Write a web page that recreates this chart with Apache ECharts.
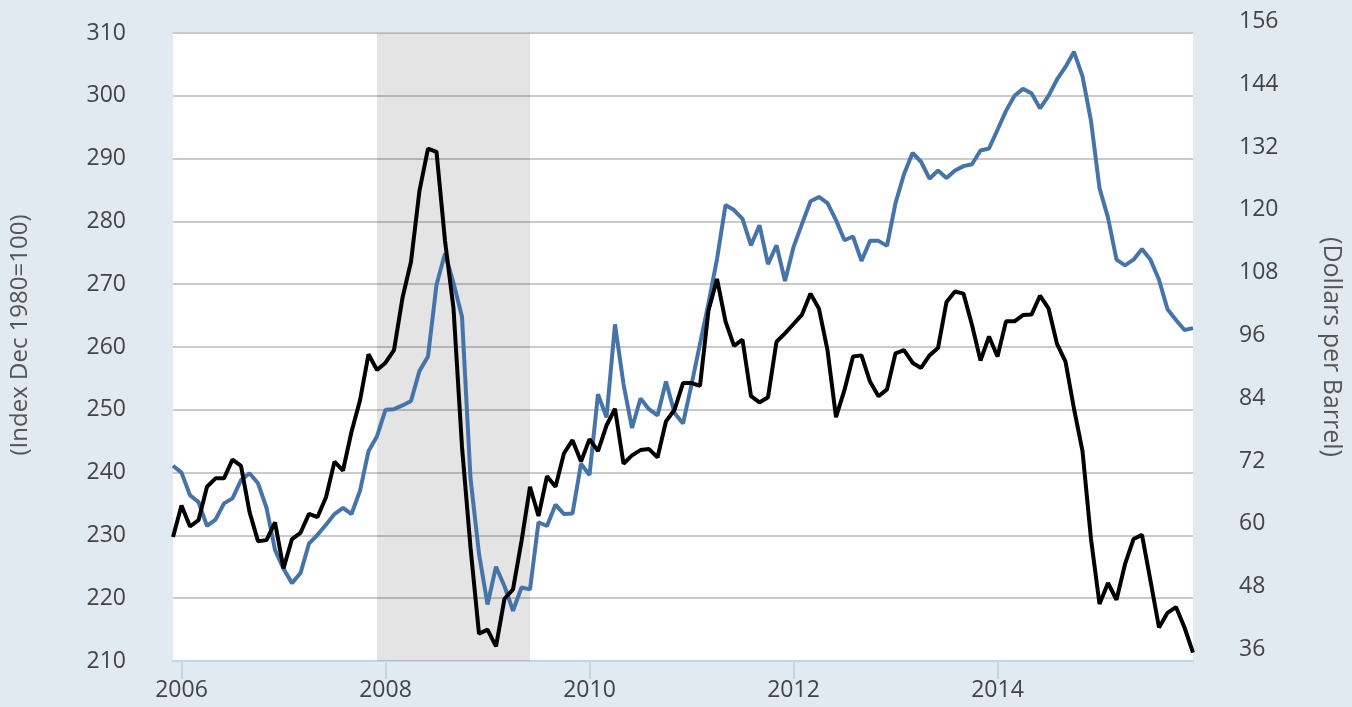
<!DOCTYPE html>
<html>
<head>
<meta charset="utf-8">
<script src="https://cdn.jsdelivr.net/npm/echarts@6/dist/echarts.min.js"></script>
<style>
  html, body { margin: 0; padding: 0; background: #e1e9f1; }
  #chart { width: 1352px; height: 707px; }
</style>
</head>
<body>
<div id="chart"></div>
<script>
// monthly, Dec 2005 .. Dec 2015
var startYear = 2005, startMonth = 12, monthCount = 121;
var tickYears = ['2006', '2008', '2010', '2012', '2014'];
var recession = ['2007-12', '2009-06'];

// left axis: index Dec 1980=100
var indexValues = [
    241.1, 240.0, 236.4, 235.3, 231.5, 232.5, 235.1, 235.9, 238.8, 239.9, 238.3, 234.4,
    227.7, 224.7, 222.4, 224.0, 228.7, 230.1, 231.7, 233.4, 234.4, 233.4, 237.1, 243.4,
    245.8, 250.0, 250.1, 250.7, 251.4, 256.2, 258.5, 269.9, 274.9, 270.2, 264.8, 239.1,
    227.1, 219.0, 225.0, 221.9, 218.0, 221.7, 221.4, 232.1, 231.5, 234.9, 233.4, 233.5,
    241.4, 239.6, 252.5, 248.8, 263.6, 254.1, 247.1, 251.8, 250.1, 249.1, 254.5, 249.5,
    247.8, 254.0, 260.5, 267.0, 274.0, 282.6, 281.8, 280.4, 276.2, 279.4, 273.2, 276.2,
    270.5, 275.9, 279.6, 283.2, 283.9, 282.9, 280.2, 277.0, 277.6, 273.7, 276.9, 276.9,
    276.1, 282.9, 287.5, 290.9, 289.5, 286.8, 288.1, 286.9, 288.1, 288.8, 289.1, 291.3,
    291.6, 294.6, 297.6, 300.0, 301.1, 300.4, 298.0, 300.0, 302.6, 304.6, 307.0, 303.1,
    296.0, 285.3, 280.6, 273.9, 273.0, 273.9, 275.6, 273.9, 270.7, 266.0, 264.3, 262.7,
    263.0
];

// right axis: dollars per barrel
var oilPrices = [
    59.7, 65.7, 61.7, 62.9, 69.3, 70.9, 70.9, 74.5, 73.3, 64.5, 58.9, 59.1,
    62.5, 53.7, 59.3, 60.5, 64.1, 63.5, 67.3, 74.1, 72.4, 79.8, 85.8, 94.6,
    91.6, 93.0, 95.4, 105.4, 112.3, 125.9, 133.9, 133.3, 116.3, 103.4, 76.9, 57.7,
    41.2, 42.0, 38.8, 47.9, 49.7, 58.9, 69.3, 63.7, 71.3, 69.3, 75.7, 78.2,
    74.1, 78.4, 76.1, 81.0, 84.2, 73.7, 75.3, 76.3, 76.5, 74.9, 81.8, 84.0,
    89.1, 89.1, 88.6, 103.0, 109.0, 100.9, 96.2, 97.4, 86.6, 85.4, 86.4, 97.0,
    98.6, 100.4, 102.2, 106.2, 103.3, 95.4, 82.6, 87.8, 94.2, 94.4, 89.4, 86.6,
    87.9, 94.8, 95.4, 93.0, 92.0, 94.4, 95.8, 104.6, 106.6, 106.2, 100.2, 93.4,
    98.0, 94.2, 100.9, 100.9, 102.1, 102.2, 105.8, 103.4, 96.6, 93.2, 84.2, 76.1,
    59.3, 46.9, 50.9, 47.7, 54.5, 59.3, 60.1, 51.3, 42.4, 45.2, 46.3, 42.4,
    37.6
];

var months = [];
for (var i = 0; i < monthCount; i++) {
    var m = (startMonth - 1 + i) % 12 + 1;
    var y = startYear + Math.floor((startMonth - 1 + i) / 12);
    months.push(y + '-' + (m < 10 ? '0' + m : m));
}

function isYearTick(index) {
    var c = months[index];
    return c.slice(5) === '01' && tickYears.indexOf(c.slice(0, 4)) >= 0;
}

var labelFont = { fontFamily: 'Open Sans', fontSize: 23, color: '#444' };

var myChart = echarts.init(document.getElementById('chart'));
myChart.setOption({
    backgroundColor: '#e1e9f1',
    animation: false,
    grid: {
        left: 173,
        right: 157,
        top: 33,
        bottom: 46,
        show: true,
        backgroundColor: '#ffffff',
        borderWidth: 0
    },
    xAxis: {
        type: 'category',
        data: months,
        boundaryGap: false,
        axisLine: { lineStyle: { color: '#c5d5e6', width: 2 } },
        axisTick: {
            interval: function (index) { return isYearTick(index); },
            length: 18,
            lineStyle: { color: '#c5d5e6', width: 2 }
        },
        axisLabel: {
            interval: function (index) { return isYearTick(index); },
            formatter: function (v) { return v.slice(0, 4); },
            margin: 18,
            fontFamily: 'Open Sans',
            fontSize: 23,
            color: '#444'
        },
        splitLine: { show: false }
    },
    yAxis: [{
        type: 'value',
        min: 210,
        max: 310,
        interval: 10,
        name: '(Index Dec 1980=100)',
        nameLocation: 'middle',
        nameRotate: 90,
        nameGap: 141,
        nameTextStyle: { fontFamily: 'Open Sans', fontSize: 24, color: '#555', padding: [0, 0, 0, 24] },
        axisLine: { show: false },
        axisTick: { show: false },
        axisLabel: Object.assign({ margin: 47 }, labelFont),
        splitLine: { lineStyle: { color: '#cacaca', width: 2 } }
    }, {
        type: 'value',
        min: 36,
        max: 156,
        interval: 12,
        name: '(Dollars per Barrel)',
        nameLocation: 'middle',
        nameRotate: -90,
        nameGap: 126,
        nameTextStyle: { fontFamily: 'Open Sans', fontSize: 25, color: '#555' },
        axisLine: { show: false },
        axisTick: { show: false },
        axisLabel: Object.assign({ margin: 46, align: 'left', verticalAlign: 'bottom' }, labelFont),
        splitLine: { show: false }
    }],
    series: [{
        name: 'Index',
        type: 'line',
        yAxisIndex: 0,
        data: indexValues,
        symbol: 'none',
        lineStyle: { color: '#4774a8', width: 4 },
        markArea: {
            silent: true,
            itemStyle: { color: 'rgba(0,0,0,0.105)' },
            data: [[{ xAxis: recession[0] }, { xAxis: recession[1] }]]
        },
        z: 2
    }, {
        name: 'Oil',
        type: 'line',
        yAxisIndex: 1,
        data: oilPrices,
        symbol: 'none',
        lineStyle: { color: '#000000', width: 4 },
        z: 3
    }]
});
</script>
</body>
</html>
